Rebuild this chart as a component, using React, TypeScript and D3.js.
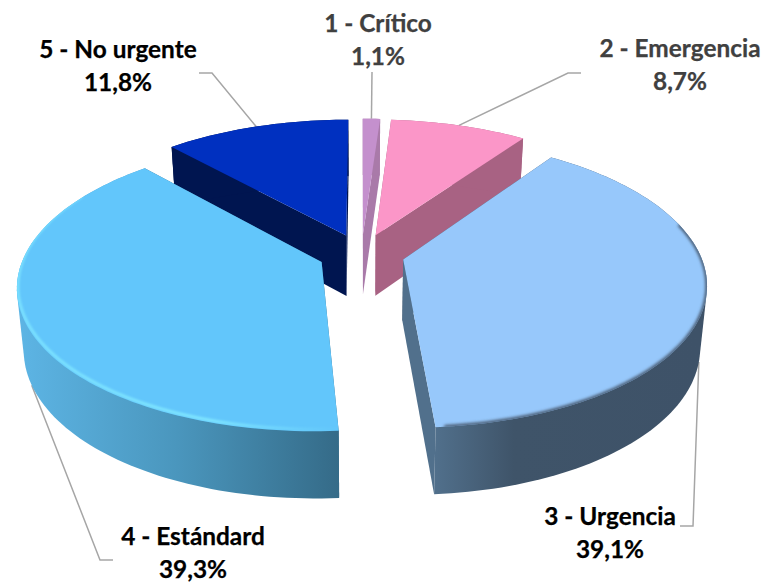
import React from "react";
import * as d3 from "d3";

const categories = ["1 - Crítico", "2 - Emergencia", "3 - Urgencia", "4 - Estándard", "5 - No urgente"];
const values = [1.1, 8.7, 39.1, 39.3, 11.8];
const valueLabels = ["1,1%", "8,7%", "39,1%", "39,3%", "11,8%"];
const topColors = ["#c490cd", "#fb96c8", "#97c8fb", "#62c6fb", "#0030c0"];
const faceColors = ["#a97aa9", "#a86283", "#41566b", "#356b88", "#001550"];
const labelColors = ["#404040", "#404040", "#000000", "#000000", "#000000"];

// Layout of the labels and leader elbows
const labelX = [378, 680, 610, 193, 118];
const labelY = [32, 57, 525, 545, 58];
const elbows: number[][][] = [
  [[372, 72]],
  [[568, 73], [581, 73]],
  [[693, 526], [680, 526]],
  [[100, 560], [113, 560]],
  [[212, 73], [199, 73]],
];

// Projection parameters of the tilted disc
const W = 763, H = 582;
const cx = 361.5, cy = 254, R = 297, EXPLODE = 43, TILT = 0.47, PERSP = 0.16;
const DEPTH = 61, BX = 0.98, BY = 1.035;

type Pt = [number, number];
function proj(X: number, Yp: number, bottom: boolean): Pt {
  const s = 1 / (1 + (PERSP * Yp) / 300);
  const w = -Yp * TILT * s;
  if (!bottom) return [cx + X * s, cy + w];
  return [cx + X * s * BX, cy + DEPTH + w * BY];
}

const pie = d3.pie<number>().sort(null).startAngle(0).endAngle(2 * Math.PI);
const arcs = pie(values);
const line = d3.line<Pt>();

function sliceGeom(i: number) {
  const a = arcs[i];
  const mid = (a.startAngle + a.endAngle) / 2;
  const ox = EXPLODE * Math.sin(mid), oy = EXPLODE * Math.cos(mid);
  const rim = (t: number, b: boolean) => proj(ox + R * Math.sin(t), oy + R * Math.cos(t), b);
  const n = Math.max(4, Math.ceil((a.endAngle - a.startAngle) * 40));
  const ts = d3.range(n + 1).map((k) => a.startAngle + ((a.endAngle - a.startAngle) * k) / n);
  const topRim = ts.map((t) => rim(t, false));
  const botRim = ts.map((t) => rim(t, true));
  const apexT = proj(ox, oy, false), apexB = proj(ox, oy, true);
  return { a, mid, rim, ts, topRim, botRim, apexT, apexB };
}
const geoms = arcs.map((_, i) => sliceGeom(i));
const order = [4, 1, 0, 2, 3];

function leader(i: number): Pt[] {
  const g = geoms[i];
  const front = Math.cos(g.mid) < 0;
  const anchor = g.rim(g.mid, front);
  return [anchor, ...(elbows[i] as Pt[])];
}

export default function App() {
  const g3 = geoms[2], g4 = geoms[3];
  const x3 = d3.extent(g3.botRim, (d) => d[0]) as [number, number];
  const x4 = d3.extent(g4.topRim, (d) => d[0]) as [number, number];
  const rimPart = (g: typeof g3, from: number, to: number) =>
    g.ts.filter((t) => t * 180 / Math.PI >= from && t * 180 / Math.PI <= to).map((t) => g.rim(t, false));
  return (
    <svg width={W} height={H} style={{ position: "absolute", left: 0, top: 0, background: "#fff" }}
      fontFamily="Lato, Carlito, sans-serif" fontWeight={700}>
      <defs>
        <linearGradient id="w3" gradientUnits="userSpaceOnUse" x1={g3.botRim[g3.botRim.length - 1][0]} x2={x3[1]} y1={0} y2={0}>
          <stop offset="0" stopColor="#51708c" />
          <stop offset="0.3" stopColor="#3f5469" />
          <stop offset="1" stopColor="#3e5268" />
        </linearGradient>
        <linearGradient id="w4" gradientUnits="userSpaceOnUse" x1={x4[0]} x2={g4.topRim[0][0]} y1={0} y2={0}>
          <stop offset="0" stopColor="#5db5e5" />
          <stop offset="0.5" stopColor="#4a96bd" />
          <stop offset="1" stopColor="#356b88" />
        </linearGradient>
        <linearGradient id="hl" gradientUnits="userSpaceOnUse" x1={x4[0]} x2={g4.topRim[0][0]} y1={0} y2={0}>
          <stop offset="0" stopColor="#7fe6ff" stopOpacity={0.85} />
          <stop offset="0.6" stopColor="#7fe6ff" stopOpacity={1} />
          <stop offset="1" stopColor="#7fe6ff" stopOpacity={0} />
        </linearGradient>
        <filter id="soft" x="-10%" y="-10%" width="120%" height="120%"><feGaussianBlur stdDeviation="0.8" /></filter>
        <filter id="soft2" x="-10%" y="-10%" width="120%" height="120%"><feGaussianBlur stdDeviation="1.6" /></filter>
        {geoms.map((g, i) => (
          <clipPath id={`top${i}`} key={i}>
            <path d={line([g.apexT, ...g.topRim])! + "Z"} />
          </clipPath>
        ))}
      </defs>
      {[0, 1, 2, 3, 4].map((i) => (
        <path key={i} d={line(leader(i))!} fill="none" stroke="#a6a6a6" strokeWidth={1.5} />
      ))}
      {order.map((i) => {
        const g = geoms[i];
        const lastT = g.topRim[g.topRim.length - 1], lastB = g.botRim[g.botRim.length - 1];
        const wallFill = i === 2 ? "url(#w3)" : i === 3 ? "url(#w4)" : faceColors[i];
        const hull = d3.polygonHull([...g.topRim, ...g.botRim])!;
        return (
          <g key={i}>
            <path d={line([g.apexT, g.topRim[0], g.botRim[0], g.apexB])! + "Z"} fill={faceColors[i]} />
            <path d={line([g.apexT, lastT, lastB, g.apexB])! + "Z"} fill={i === 2 ? "url(#w3)" : faceColors[i]} />
            <path d={line(hull)! + "Z"} fill={wallFill} />
            <path d={line([g.apexT, ...g.topRim])! + "Z"} fill={topColors[i]} />
            {i === 3 && (
              <g clipPath="url(#top3)">
                <path d={line(rimPart(g, 176, 300).map((p) => [p[0] + 1, p[1] - 2] as Pt))!} fill="none" stroke="url(#hl)" strokeWidth={3} filter="url(#soft)" />
              </g>
            )}
            {i === 2 && (
              <g clipPath="url(#top2)">
                <path d={line(rimPart(g, 75, 176))!} fill="none" stroke="#46596e" strokeWidth={3.5} filter="url(#soft2)" />
              </g>
            )}
          </g>
        );
      })}
      {categories.map((c, i) => (
        <g key={c} fontSize={24.4} textAnchor="middle" fill={labelColors[i]} stroke={labelColors[i]} strokeWidth={0.25}>
          <text x={labelX[i]} y={labelY[i]}>{c}</text>
          <text x={labelX[i]} y={labelY[i] + 33}>{valueLabels[i]}</text>
        </g>
      ))}
    </svg>
  );
}
